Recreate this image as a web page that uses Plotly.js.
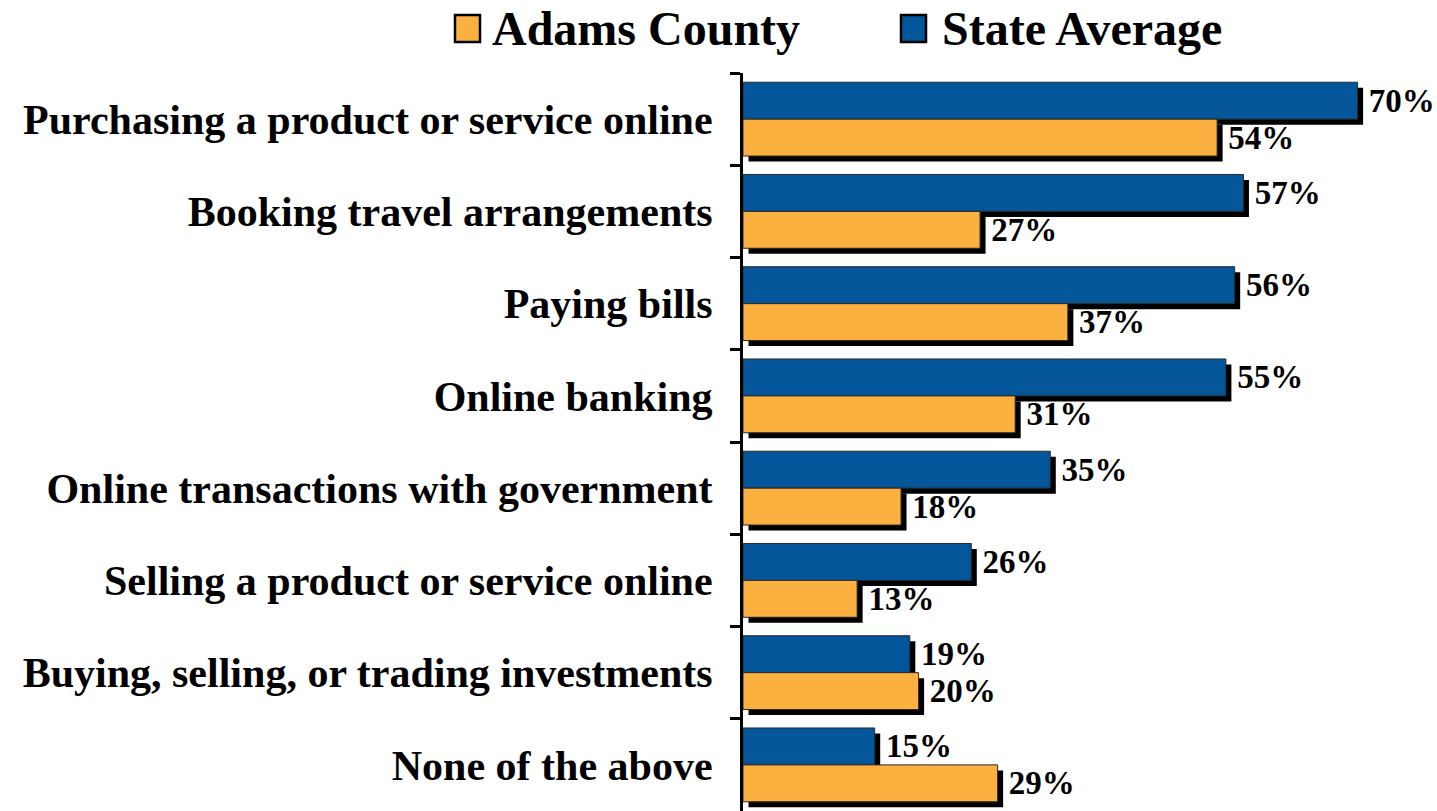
<!DOCTYPE html>
<html>
<head>
<meta charset="utf-8">
<script src="https://cdn.plot.ly/plotly-3.0.1.min.js"></script>
<style>
  html, body { margin: 0; padding: 0; background: #ffffff; }
  #chart { width: 1437px; height: 811px; }
</style>
</head>
<body>
<div id="chart"></div>
<script>
// ---- data ----
const categories = [
  "Purchasing a product or service online",
  "Booking travel arrangements",
  "Paying bills",
  "Online banking",
  "Online transactions with government",
  "Selling a product or service online",
  "Buying, selling, or trading investments",
  "None of the above"
];
const seriesNames = ["Adams County", "State Average"];
const adamsCounty = [54, 27, 37, 31, 18, 13, 20, 29];
const stateAverage = [70, 57, 56, 55, 35, 26, 19, 15];

// ---- style / layout constants ----
const W = 1437, H = 811;
const L = 743, T = 73;
const plotW = W - L, plotH = H - T;
const pxPerUnit = 8.78;
const xMax = plotW / pxPerUnit;
const catPx = plotH / categories.length;
const shadowPx = 5.5;
const shadowX = shadowPx / pxPerUnit;
const shadowY = shadowPx / catPx;
const barW = 0.40;
const FONT = "Liberation Serif, Times New Roman, serif";
const orange = "#FBB040";
const blue = "#03569A";

function shadowTrace(vals, off) {
  return {
    type: "bar", orientation: "h",
    y: categories, x: vals, base: vals.map(() => shadowX),
    width: barW, offset: off + shadowY,
    marker: { color: "#000000", line: { width: 0 } },
    showlegend: false, hoverinfo: "skip"
  };
}
function mainTrace(vals, off, color, name) {
  return {
    type: "bar", orientation: "h", name: name,
    y: categories, x: vals,
    width: barW, offset: off,
    marker: { color: color, line: { color: "#2a2a2a", width: 1 } },
    text: vals.map(v => "\u00a0" + v + "%"),
    textposition: "outside",
    constraintext: "none",
    cliponaxis: false,
    textfont: { family: FONT, size: 33, color: "#000000", weight: "bold" },
    showlegend: false
  };
}

const traces = [
  shadowTrace(stateAverage, -barW),
  mainTrace(stateAverage, -barW, blue, seriesNames[1]),
  shadowTrace(adamsCounty, 0),
  mainTrace(adamsCounty, 0, orange, seriesNames[0])
];

const px2x = p => (p - L) / plotW;
const py2y = p => (H - p) / plotH;

// custom legend
const legendItems = [
  { name: seriesNames[0], color: orange, mx0: 455, tx: 490 },
  { name: seriesNames[1], color: blue, mx0: 901, tx: 940 }
];
const shapes = [];
const annotations = [];
legendItems.forEach(it => {
  shapes.push({
    type: "rect", xref: "paper", yref: "paper",
    x0: px2x(it.mx0), x1: px2x(it.mx0 + 25),
    y0: py2y(42), y1: py2y(15),
    fillcolor: it.color, line: { color: "#000000", width: 2.5 }
  });
  annotations.push({
    xref: "paper", yref: "paper", x: px2x(it.tx), y: py2y(29),
    xanchor: "left", yanchor: "middle", showarrow: false,
    text: it.name,
    font: { family: FONT, size: 48, color: "#000000", weight: "bold" }
  });
});

const layout = {
  width: W, height: H,
  margin: { l: L, r: 0, t: T, b: 0, pad: 0 },
  paper_bgcolor: "#ffffff", plot_bgcolor: "#ffffff",
  barmode: "overlay",
  showlegend: false,
  xaxis: { range: [0, xMax], visible: false, fixedrange: true },
  yaxis: {
    type: "category", categoryorder: "array", categoryarray: categories,
    range: [categories.length - 0.5, -0.5],
    tickson: "boundaries", ticks: "outside", ticklen: 10, tickwidth: 3, tickcolor: "#000000",
    showline: true, linewidth: 3, linecolor: "#000000",
    showgrid: false, zeroline: false,
    ticklabelstandoff: 19,
    tickfont: { family: FONT, size: 42, color: "#000000", weight: "bold" },
    fixedrange: true
  },
  shapes: shapes,
  annotations: annotations
};

Plotly.newPlot("chart", traces, layout, { displayModeBar: false, staticPlot: true });
</script>
</body>
</html>
